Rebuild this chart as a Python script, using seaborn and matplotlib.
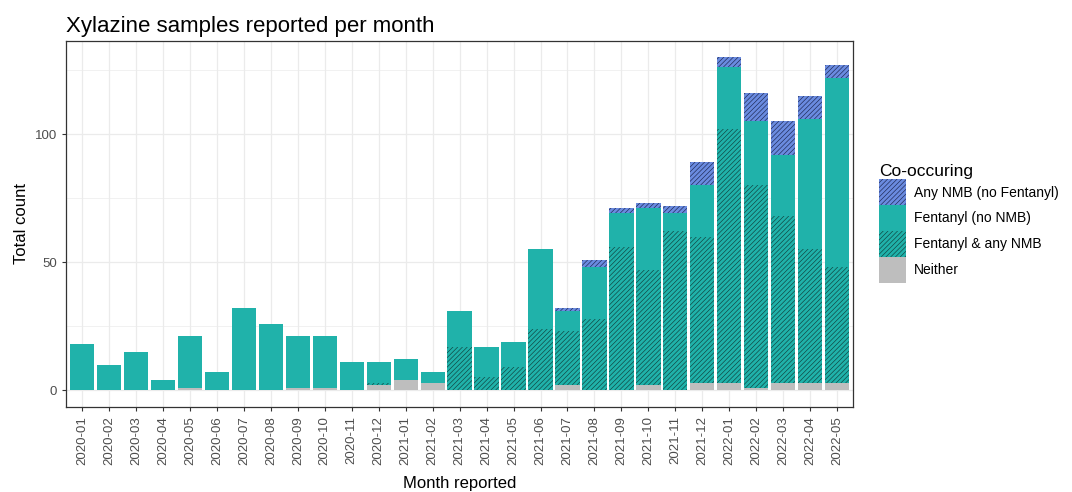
import seaborn as sns
import matplotlib.pyplot as plt
import pandas as pd
import numpy as np
from matplotlib.patches import Patch

months = ['2020-01', '2020-02', '2020-03', '2020-04', '2020-05', '2020-06', '2020-07', '2020-08',
          '2020-09', '2020-10', '2020-11', '2020-12', '2021-01', '2021-02', '2021-03', '2021-04',
          '2021-05', '2021-06', '2021-07', '2021-08', '2021-09', '2021-10', '2021-11', '2021-12',
          '2022-01', '2022-02', '2022-03', '2022-04', '2022-05']

neither =      [0, 0, 0, 0, 1, 0, 0, 0, 1, 1, 0, 2, 4, 3, 0, 0, 0, 0, 2, 0, 0, 2, 0, 3, 3, 1, 3, 3, 3]
fent_nmb =     [0, 0, 0, 0, 0, 0, 0, 0, 0, 0, 0, 1, 0, 0, 17, 5, 9, 24, 21, 28, 56, 45, 62, 57, 99, 79, 65, 52, 45]
fent_only =    [18, 10, 15, 4, 20, 7, 32, 26, 20, 20, 11, 8, 8, 4, 14, 12, 10, 31, 8, 20, 13, 24, 7, 20, 24, 25, 24, 51, 74]
nmb_only =     [0, 0, 0, 0, 0, 0, 0, 0, 0, 0, 0, 0, 0, 0, 0, 0, 0, 0, 1, 3, 2, 2, 3, 9, 4, 11, 13, 9, 5]

TEAL = '#20B2AA'
BLUE = '#6A8BE0'
GREY = '#BEBEBE'

df = pd.DataFrame({'month': months, 'Neither': neither, 'Fentanyl & any NMB': fent_nmb,
                   'Fentanyl (no NMB)': fent_only, 'Any NMB (no Fentanyl)': nmb_only})
layers = ['Neither', 'Fentanyl & any NMB', 'Fentanyl (no NMB)', 'Any NMB (no Fentanyl)']
cum = df[layers].cumsum(axis=1)

# (face colour, hatch, hatch colour)
styles = {'Neither': (GREY, '', GREY),
          'Fentanyl & any NMB': (TEAL, '///////', '#10403d'),
          'Fentanyl (no NMB)': (TEAL, '', TEAL),
          'Any NMB (no Fentanyl)': (BLUE, '///////', '#1c2650')}

plt.rcParams['font.family'] = ['Liberation Sans', 'DejaVu Sans']
plt.rcParams['hatch.linewidth'] = 0.45

fig = plt.figure(figsize=(10.72, 4.92), dpi=100)
ax = fig.add_axes([0.0615, 0.173, 0.7345, 0.7445])

# stacked bars: draw cumulative totals from the top layer down
for lay in layers[::-1]:
    col, hat, hcol = styles[lay]
    sns.barplot(x=df['month'], y=cum[lay], color=col, saturation=1, width=0.9,
                hatch=hat, edgecolor=hcol, linewidth=0, ax=ax, zorder=2)

ax.set_ylim(-6.5, 136.5)
ax.set_xlim(-0.6, len(months) - 0.4)
ax.set_yticks([0, 50, 100])
ax.set_yticks([25, 75, 125], minor=True)
ax.grid(which='major', color='#EBEBEB', linewidth=0.9, zorder=0)
ax.grid(which='minor', axis='y', color='#EBEBEB', linewidth=0.5, zorder=0)
ax.set_axisbelow(True)
for s in ax.spines.values():
    s.set_color('#333333')
    s.set_linewidth(0.9)
ax.tick_params(axis='x', rotation=90, labelsize=9.5, labelcolor='#4D4D4D', color='#333333', length=3)
ax.tick_params(axis='y', labelsize=9.5, labelcolor='#4D4D4D', color='#333333', length=3)
ax.tick_params(which='minor', length=0)
ax.set_xlabel('Month reported', fontsize=12, labelpad=8)
ax.set_ylabel('Total count', fontsize=12)
ax.set_title('Xylazine samples reported per month', fontsize=16, loc='left', pad=6)

handles = [Patch(facecolor=styles[l][0], hatch=styles[l][1], edgecolor=styles[l][2], linewidth=0)
           for l in layers[::-1]]
leg = ax.legend(handles, layers[::-1], title='Co-occuring', loc='center left',
                bbox_to_anchor=(1.026, 0.5), frameon=False, fontsize=10, title_fontsize=12.5,
                handlelength=1.9, handleheight=2.5, labelspacing=0.0, handletextpad=0.6,
                borderaxespad=0)
leg._legend_box.align = 'left'

fig.savefig('out.png', dpi=100)
